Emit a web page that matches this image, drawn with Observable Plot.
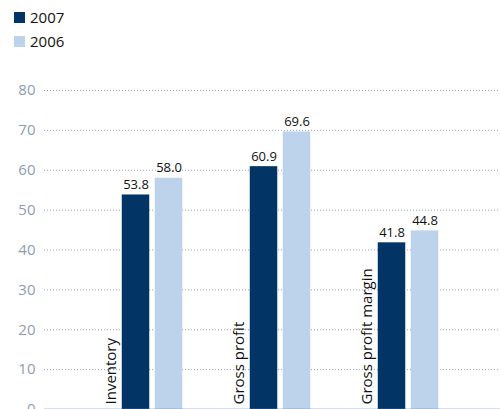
<!DOCTYPE html>
<html>
<head>
<meta charset="utf-8">
<script src="https://cdn.jsdelivr.net/npm/d3@7"></script>
<script src="https://cdn.jsdelivr.net/npm/@observablehq/plot@0.6"></script>
<style>
  html, body { margin: 0; padding: 0; background: #fff; overflow: hidden; }
  body { font-family: "Open Sans", sans-serif; }
  #legend { position: relative; height: 60px; }
  .item { position: absolute; left: 14px; display: flex; align-items: center; font-size: 15px; color: #111; }
  .sw { width: 11px; height: 11px; margin-right: 5px; }
</style>
</head>
<body>
<div id="legend"></div>
<div id="chart"></div>
<script>
const categories = ["Inventory", "Gross profit", "Gross profit margin"];
const years = ["2007", "2006"];
const values2007 = [53.8, 60.9, 41.8];
const values2006 = [58.0, 69.6, 44.8];
const yTicks = [0, 10, 20, 30, 40, 50, 60, 70, 80];

const colors = { "2007": "#023566", "2006": "#bcd3eb" };

// legend
const legend = document.getElementById("legend");
years.forEach((yr, i) => {
  const d = document.createElement("div");
  d.className = "item";
  d.style.top = (7 + i * 24) + "px";
  d.innerHTML = `<span class="sw" style="background:${colors[yr]}"></span><span>${yr}</span>`;
  legend.appendChild(d);
});

const rows2007 = categories.map((c, i) => ({ category: c, value: values2007[i] }));
const rows2006 = categories.map((c, i) => ({ category: c, value: values2006[i] }));

const chart = Plot.plot({
  width: 500,
  height: 370,
  marginTop: 30,
  marginLeft: 44,
  marginRight: 0,
  marginBottom: 21,
  style: { fontFamily: "'Open Sans', sans-serif", overflow: "visible", background: "transparent" },
  x: { type: "band", domain: categories, paddingInner: 0, paddingOuter: 0.274, align: 0.613, axis: null },
  y: { domain: [0, 80], axis: null },
  marks: [
    Plot.ruleY(yTicks.filter(t => t > 0), { stroke: "#94a3b8", strokeWidth: 1, strokeDasharray: "1,2" }),
    Plot.axisY({ ticks: yTicks, tickSize: 0, tickPadding: 9, fontSize: 15, color: "#8e9cb2", label: null }),
    Plot.barY(rows2007, { x: "category", y: "value", fill: colors["2007"], insetLeft: 33.75, insetRight: 66.75 }),
    Plot.barY(rows2006, { x: "category", y: "value", fill: colors["2006"], insetLeft: 66.75, insetRight: 33.75 }),
    Plot.text(rows2007, { x: "category", y: "value", text: d => d.value.toFixed(1), dx: -16.5, dy: -6, lineAnchor: "bottom", fontSize: 13, fill: "#111" }),
    Plot.text(rows2006, { x: "category", y: "value", text: d => d.value.toFixed(1), dx: 16.5, dy: -6, lineAnchor: "bottom", fontSize: 13, fill: "#111" }),
    Plot.ruleY([0], { stroke: "#5f84aa", strokeWidth: 1.5 }),
    Plot.text(categories, { x: d => d, y: () => 0, text: d => d, rotate: -90, textAnchor: "start", dx: -41, dy: -5, fontSize: 15, fill: "#111" })
  ]
});
document.getElementById("chart").appendChild(chart);
</script>
</body>
</html>
